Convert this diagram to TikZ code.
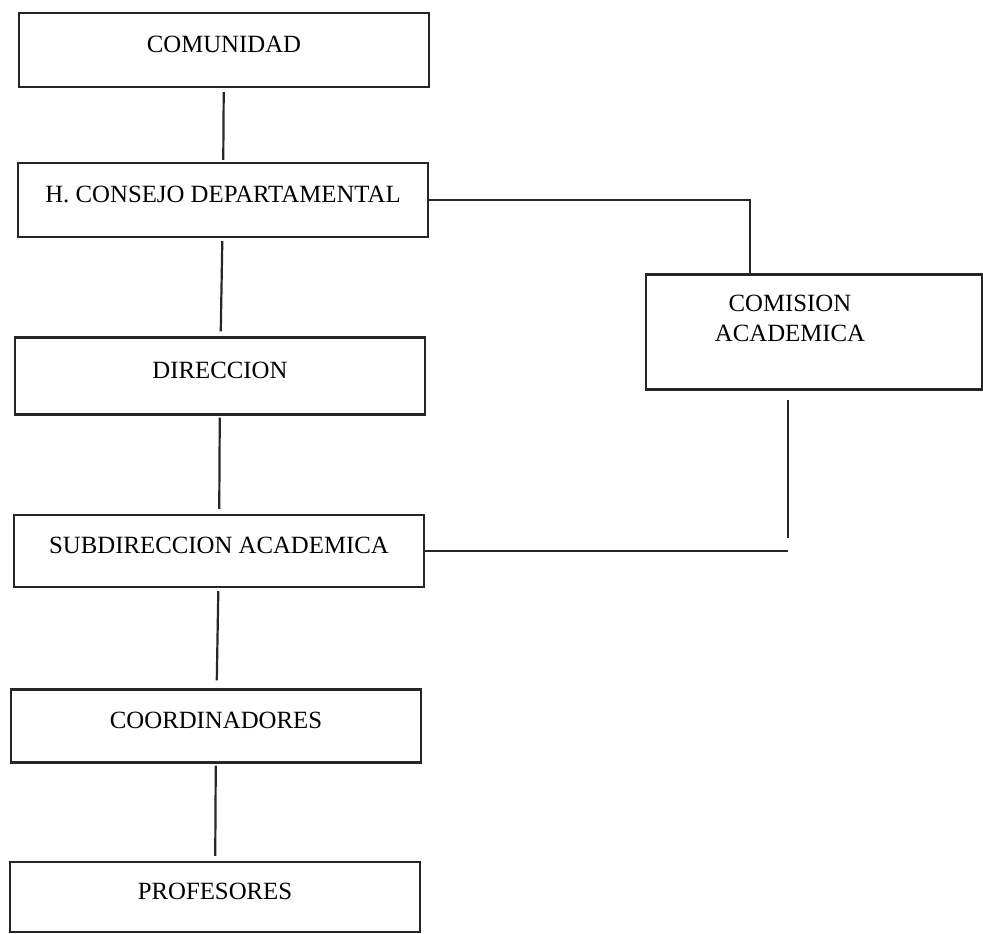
\documentclass[tikz,border=0pt]{standalone}
\usepackage{fontspec}
\setmainfont{Liberation Serif}
\usepackage{tikz}

\begin{document}
\begin{tikzpicture}[x=0.5pt,y=-0.5pt,
  cajon/.style={draw=black!85,line width=1.1pt,rectangle,minimum width=205pt,minimum height=37pt,text depth=6pt,font=\fontsize{12.4}{15}\selectfont},
  liga/.style={draw=black!85,line width=1.1pt}]
\useasboundingbox (0,0) rectangle (983,933);
\node[cajon] (comu) at (224,50) {COMUNIDAD};
\node[cajon] (cons) at (223,200) {H. CONSEJO DEPARTAMENTAL};
\node[cajon,minimum height=38.5pt] (dire) at (220,376) {DIRECCION};
\node[cajon,minimum height=36pt] (subd) at (219,551) {SUBDIRECCION ACADEMICA};
\node[cajon,minimum height=36.5pt] (coor) at (216,726) {COORDINADORES};
\node[cajon,minimum height=35pt] (prof) at (215,897) {PROFESORES};
\node[cajon,minimum width=168pt,minimum height=57.5pt,align=center,text depth=14pt] (comi) at (814,332) {COMISION\hspace*{24pt}\\ACADEMICA\hspace*{24pt}};
\coordinate (kc) at (750,274);
\coordinate (kb) at (788,400);
\coordinate (ks) at (788,538);
\draw[liga,shorten <=2pt,shorten >=1pt] (comu) -- (cons);
\draw[liga,shorten <=1.5pt,shorten >=2.5pt] (cons) -- (dire);
\draw[liga,shorten <=1pt,shorten >=2.5pt] (dire) -- (subd);
\draw[liga,shorten <=1.5pt,shorten >=4pt] (subd) -- (coor);
\draw[liga,shorten <=1pt,shorten >=2.5pt] (coor) -- (prof);
\draw[liga] (cons.east) -- (cons.east -| kc) -- (kc);
\draw[liga] (kb) -- (ks);
\draw[liga] (subd.east) -- (subd.east -| ks);
\end{tikzpicture}
\end{document}
